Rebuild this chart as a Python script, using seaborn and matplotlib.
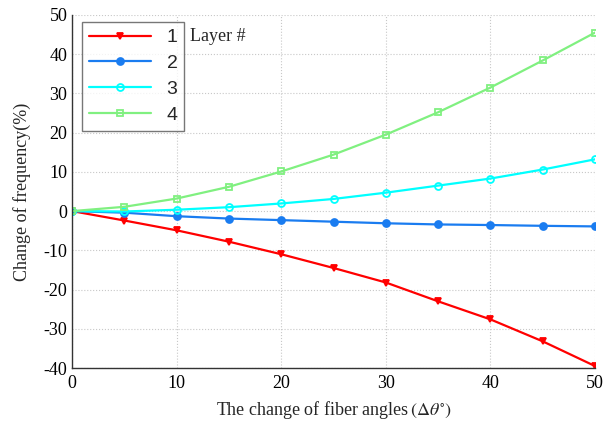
import matplotlib
matplotlib.use("Agg")
import matplotlib.pyplot as plt
import pandas as pd
import numpy as np
import seaborn as sns

# angles and frequency change per layer
angles = [0, 5, 10, 15, 20, 25, 30, 35, 40, 45, 50]
layer1 = [0, -2.4, -4.9, -7.8, -11.0, -14.5, -18.2, -23.0, -27.6, -33.2, -39.5]
layer2 = [0, -0.4, -1.3, -1.9, -2.3, -2.7, -3.1, -3.4, -3.55, -3.75, -3.9]
layer3 = [0, -0.1, 0.35, 1.0, 1.95, 3.1, 4.7, 6.5, 8.3, 10.6, 13.2]
layer4 = [0, 1.1, 3.2, 6.2, 10.1, 14.4, 19.5, 25.2, 31.5, 38.4, 45.5]
labels = ["1", "2", "3", "4"]

sns.set_style("white")
plt.rcParams["font.family"] = ["Liberation Serif", "DejaVu Serif"]
plt.rcParams["mathtext.fontset"] = "stix"
plt.rcParams["axes.unicode_minus"] = False

fig = plt.figure(figsize=(6.06, 4.26), dpi=100)
ax = fig.add_axes([0.119, 0.136, 0.863, 0.829])

styles = [
    dict(color="#ff0000", marker="v", markerfacecolor="#ff0000"),
    dict(color="#1a7cf0", marker="o", markerfacecolor="#1a7cf0"),
    dict(color="#00ffff", marker="o", markerfacecolor="none"),
    dict(color="#80f080", marker="s", markerfacecolor="none"),
]
for vals, lab, st in zip([layer1, layer2, layer3, layer4], labels, styles):
    sns.lineplot(x=angles, y=vals, ax=ax, label=lab, linewidth=1.6,
                 markersize=5, markeredgewidth=1.3,
                 markeredgecolor=st["color"], **st)

ax.set_xlim(0, 50)
ax.set_ylim(-40, 50)
ax.set_xticks(range(0, 51, 10))
ax.set_yticks(range(-40, 51, 10))
ax.grid(True, linestyle=":", color="#c8c8c8", linewidth=0.8)
ax.tick_params(direction="in", length=4, labelsize=13, colors="black")
ax.tick_params(axis="x", pad=5)
for s in ["top", "right"]:
    ax.spines[s].set_visible(False)
for s in ["left", "bottom"]:
    ax.spines[s].set_color("#333333")
    ax.spines[s].set_linewidth(1.0)

ax.set_ylabel("Change of frequency(%)", fontsize=13, labelpad=9)
ax.set_xlabel(r"The change of fiber angles$\,(\Delta\theta^{\circ})$", fontsize=13, labelpad=5)

leg = ax.legend(loc="upper left", bbox_to_anchor=(0.019, 0.98), borderaxespad=0,
                frameon=True, fancybox=False, edgecolor="#555555",
                prop={"family": "Liberation Sans", "size": 14},
                handlelength=3.2, borderpad=0.35, labelspacing=0.42)
leg.get_frame().set_linewidth(1.0)

ax.text(11.3, 44.6, "Layer #", fontsize=13, va="center", ha="left")

fig.savefig("out.png", dpi=100)
